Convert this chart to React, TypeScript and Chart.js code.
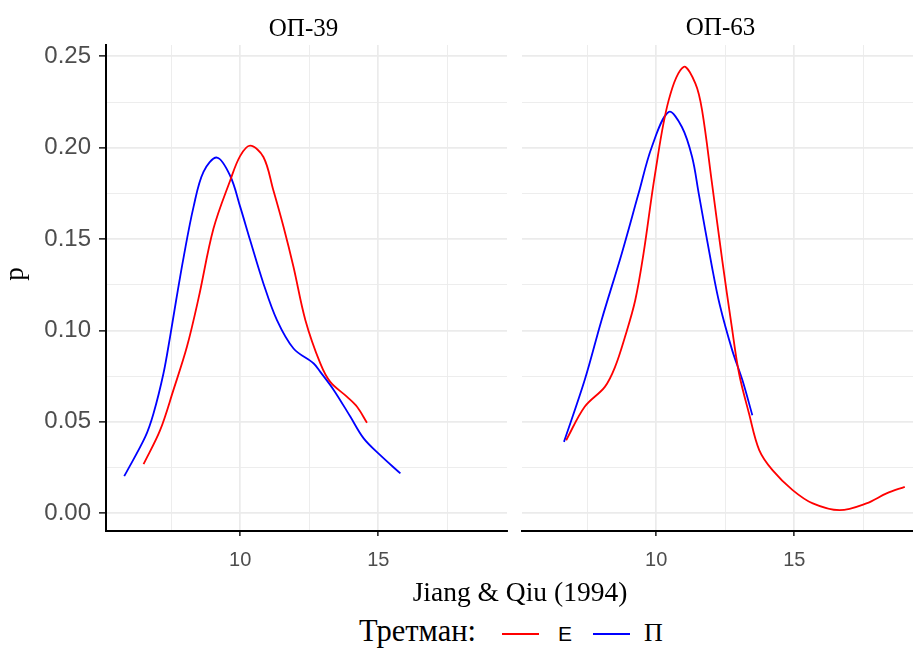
import React, { useEffect, useRef } from "react";
import { Chart, registerables } from "chart.js";
Chart.register(...registerables);

const panelNames = ["ОП-39", "ОП-63"];
const seriesNames = ["Е", "П"];
const seriesColors = ["#FF0000", "#0000FF"];
const xTicks = [7.5, 10, 12.5, 15, 17.5];
const yTicks = [0, 0.025, 0.05, 0.075, 0.1, 0.125, 0.15, 0.175, 0.2, 0.225, 0.25];
const X_MIN = 5.14;
const X_MAX = 19.66;
const Y_MIN = -0.0098;
const Y_MAX = 0.2562;

// ОП-39, Е (red)
const op39E_x = [6.5, 7.1, 7.58, 8.07, 8.49, 9.03, 9.64, 10.0, 10.36, 10.84, 11.2, 11.57, 11.93, 12.36, 12.9, 13.26, 13.87, 14.23, 14.59];
const op39E_y = [0.0268, 0.0454, 0.0673, 0.091, 0.1175, 0.1556, 0.1822, 0.1955, 0.2011, 0.1949, 0.1767, 0.1566, 0.1347, 0.1056, 0.0819, 0.0718, 0.0636, 0.0582, 0.0494];
// ОП-39, П (blue)
const op39P_x = [5.8, 6.56, 6.86, 7.22, 7.46, 7.68, 7.95, 8.31, 8.67, 9.16, 9.64, 10.0, 10.36, 10.84, 11.33, 11.93, 12.66, 12.9, 13.39, 13.99, 14.47, 15.07, 15.8];
const op39P_y = [0.0202, 0.0417, 0.0545, 0.0764, 0.0965, 0.1165, 0.14, 0.1676, 0.1868, 0.1946, 0.1845, 0.1676, 0.1493, 0.1257, 0.1056, 0.0901, 0.0819, 0.0773, 0.0673, 0.0527, 0.0409, 0.0317, 0.0217];
// ОП-63, Е (red)
const op63E_x = [6.74, 7.41, 8.14, 8.51, 8.87, 9.24, 9.54, 9.96, 10.45, 10.99, 11.42, 11.66, 12.02, 12.39, 12.73, 13.0, 13.36, 13.73, 14.21, 14.94, 15.67, 16.64, 17.61, 18.34, 19.0];
const op63E_y = [0.0399, 0.0582, 0.0691, 0.08, 0.0965, 0.1165, 0.142, 0.1858, 0.2259, 0.2442, 0.2351, 0.2205, 0.1804, 0.1384, 0.1026, 0.0764, 0.0545, 0.0345, 0.0235, 0.0126, 0.0053, 0.0016, 0.0053, 0.0108, 0.0144];
// ОП-63, П (blue)
const op63P_x = [6.66, 7.41, 8.02, 8.75, 9.36, 9.84, 10.45, 10.93, 11.3, 11.54, 12.02, 12.3, 12.75, 13.12, 13.48];
const op63P_y = [0.039, 0.0728, 0.1056, 0.142, 0.1749, 0.2004, 0.2195, 0.2113, 0.1949, 0.1749, 0.1347, 0.114, 0.0892, 0.0728, 0.0536];

const SERIF = '"Liberation Serif", "Times New Roman", serif';
const SANS = '"Liberation Sans", Arial, sans-serif';

const toPts = (xs: number[], ys: number[]) => xs.map((x, i) => ({ x, y: ys[i] }));

const isMajorX = (v: number) => Math.abs(v % 5) < 1e-6;
const isMajorY = (v: number) => Math.abs(Math.round(v * 1000) % 50) < 1e-6;

function makeConfig(series: { x: number[]; y: number[] }[], showY: boolean, padLeft: number, padRight: number): any {
  return {
    type: "line",
    data: {
      datasets: series.map((s, i) => ({
        label: seriesNames[i],
        data: toPts(s.x, s.y),
        borderColor: seriesColors[i],
        backgroundColor: seriesColors[i],
        borderWidth: 1.8,
        pointRadius: 0,
        fill: false,
        tension: 0.35,
      })),
    },
    options: {
      animation: false,
      responsive: false,
      maintainAspectRatio: false,
      layout: { padding: { top: 45, left: padLeft, right: padRight, bottom: 0 } },
      plugins: { legend: { display: false }, tooltip: { enabled: false } },
      scales: {
        x: {
          type: "linear",
          min: X_MIN,
          max: X_MAX,
          afterBuildTicks: (scale: any) => {
            scale.ticks = xTicks.map((v) => ({ value: v }));
          },
          afterFit: (scale: any) => {
            scale.height = 49;
          },
          ticks: {
            autoSkip: false,
            maxRotation: 0,
            padding: 12,
            color: "#4D4D4D",
            font: { family: SANS, size: 20 },
            callback: (v: any) => (isMajorX(Number(v)) ? String(v) : ""),
          },
          grid: {
            drawOnChartArea: true,
            drawTicks: true,
            tickLength: 5,
            color: "#EBEBEB",
            lineWidth: (ctx: any) => (ctx.tick && isMajorX(ctx.tick.value) ? 1.7 : 0.9),
            tickColor: (ctx: any) => (ctx.tick && isMajorX(ctx.tick.value) ? "#333333" : "rgba(0,0,0,0)"),
            tickWidth: 1.7,
          },
          border: { display: true, color: "#000000", width: 2 },
        },
        y: {
          type: "linear",
          min: Y_MIN,
          max: Y_MAX,
          afterBuildTicks: (scale: any) => {
            scale.ticks = yTicks.map((v) => ({ value: v }));
          },
          afterFit: (scale: any) => {
            scale.width = showY ? 106 : 0;
          },
          ticks: {
            display: showY,
            autoSkip: false,
            padding: 8,
            color: "#4D4D4D",
            font: { family: SANS, size: 24 },
            callback: (v: any) => (isMajorY(Number(v)) ? Number(v).toFixed(2) : ""),
          },
          grid: {
            drawOnChartArea: true,
            drawTicks: showY,
            tickLength: showY ? 7 : 0,
            color: "#EBEBEB",
            lineWidth: (ctx: any) => (ctx.tick && isMajorY(ctx.tick.value) ? 1.7 : 0.9),
            tickColor: (ctx: any) => (ctx.tick && isMajorY(ctx.tick.value) ? "#333333" : "rgba(0,0,0,0)"),
            tickWidth: 1.7,
          },
          border: { display: showY, color: "#000000", width: 2 },
        },
      },
    },
  };
}

function Panel(props: { series: { x: number[]; y: number[] }[]; showY: boolean; left: number; width: number; padLeft: number; padRight: number }) {
  const ref = useRef<HTMLCanvasElement | null>(null);
  useEffect(() => {
    if (!ref.current) return;
    const chart = new Chart(ref.current, makeConfig(props.series, props.showY, props.padLeft, props.padRight));
    return () => chart.destroy();
  }, []);
  return (
    <div style={{ position: "absolute", left: props.left, top: 0, width: props.width, height: 580 }}>
      <canvas ref={ref} width={props.width} height={580} style={{ width: props.width, height: 580, display: "block" }} />
    </div>
  );
}

export default function App() {
  return (
    <div style={{ position: "fixed", left: 0, top: 0, width: 913, height: 648, overflow: "hidden", background: "#FFFFFF" }}>
      <Panel series={[{ x: op39E_x, y: op39E_y }, { x: op39P_x, y: op39P_y }]} showY={true} left={0} width={515} padLeft={0} padRight={8} />
      <Panel series={[{ x: op63E_x, y: op63E_y }, { x: op63P_x, y: op63P_y }]} showY={false} left={515} width={415} padLeft={7} padRight={7} />
      <div style={{ position: "absolute", left: 103, width: 401, top: 15, textAlign: "center", font: `25px ${SERIF}`, lineHeight: "25px", color: "#000" }}>{panelNames[0]}</div>
      <div style={{ position: "absolute", left: 520, width: 401, top: 14, textAlign: "center", font: `25px ${SERIF}`, lineHeight: "25px", color: "#000" }}>{panelNames[1]}</div>
      <div style={{ position: "absolute", left: 14, top: 274, width: 0, height: 0 }}>
        <div style={{ position: "absolute", left: -20, top: -13, width: 40, textAlign: "center", font: `27px ${SERIF}`, lineHeight: "26px", transform: "rotate(-90deg)", color: "#000" }}>p</div>
      </div>
      <div style={{ position: "absolute", left: 320, width: 400, top: 578, textAlign: "center", font: `27.5px ${SERIF}`, lineHeight: "27px", color: "#000", whiteSpace: "nowrap" }}>Jiang &amp; Qiu (1994)</div>
      <div style={{ position: "absolute", left: 359, top: 616, font: `30.5px ${SERIF}`, lineHeight: "30px", color: "#000", whiteSpace: "nowrap" }}>Третман:</div>
      <div style={{ position: "absolute", left: 502, top: 633, width: 37, height: 2, background: seriesColors[0] }} />
      <div style={{ position: "absolute", left: 558, top: 623, font: `21px ${SANS}`, lineHeight: "21px", color: "#000" }}>{seriesNames[0]}</div>
      <div style={{ position: "absolute", left: 593, top: 633, width: 37, height: 2, background: seriesColors[1] }} />
      <div style={{ position: "absolute", left: 644, top: 620, font: `26px ${SERIF}`, lineHeight: "26px", color: "#000" }}>{seriesNames[1]}</div>
    </div>
  );
}
